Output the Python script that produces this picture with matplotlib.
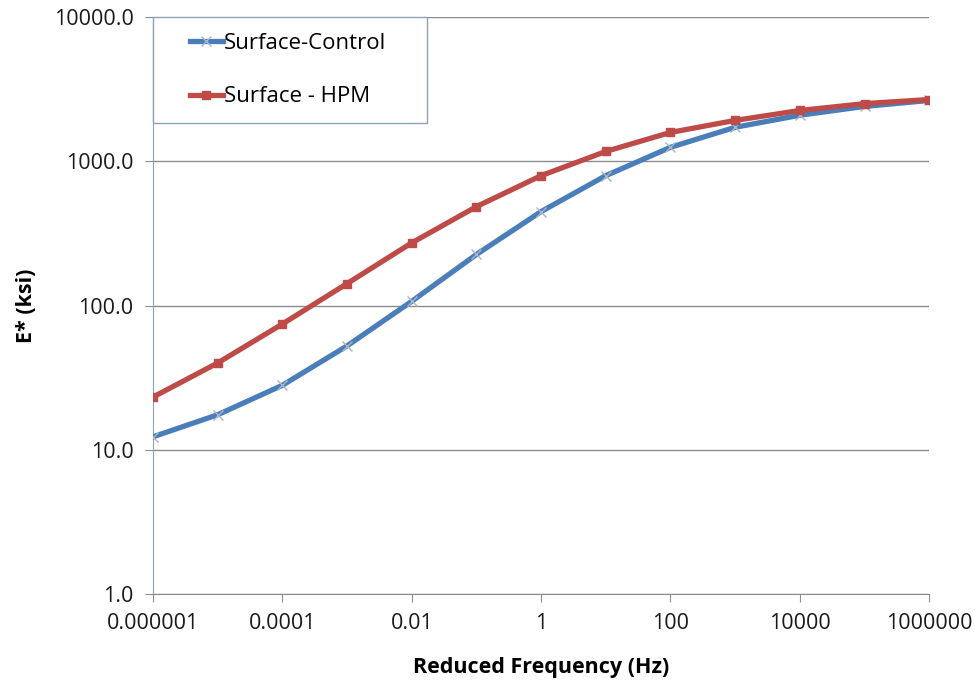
import numpy as np
import matplotlib.pyplot as plt
from matplotlib.patches import Rectangle
from matplotlib.ticker import FixedLocator, FuncFormatter, NullLocator

# Reduced frequency (Hz), half-decade steps
freq = [1e-6, 1e-5, 1e-4, 1e-3, 1e-2, 1e-1, 1, 10, 100, 1e3, 1e4, 1e5, 1e6]

# Dynamic modulus E* (ksi)
e_control = [12.3, 17.5, 28.0, 52.5, 107, 226, 448, 795, 1250, 1720, 2085, 2400, 2640]
e_hpm = [23.2, 40.0, 74.5, 142, 272, 485, 795, 1170, 1585, 1920, 2250, 2510, 2680]

x_ticks = [1e-6, 1e-4, 1e-2, 1, 100, 1e4, 1e6]
x_labels = ['0.000001', '0.0001', '0.01', '1', '100', '10000', '1000000']
y_ticks = [1, 10, 100, 1000, 10000]

plt.rcParams['font.family'] = ['Open Sans', 'DejaVu Sans']

fig = plt.figure(figsize=(9.75, 6.92), dpi=100)
ax = fig.add_axes([0.157, 0.1416, 0.796, 0.8338])

ax.plot(freq, e_control, color='#4a7ebb', lw=3.8, marker='x', ms=7,
        mec='#a8b4c8', mew=1.0, label='Surface-Control', zorder=3)
ax.plot(freq, e_hpm, color='#be4b48', lw=3.8, marker='s', ms=6,
        mfc='#be4b48', mec='#be4b48', label='Surface - HPM', zorder=4)

ax.set_xscale('log')
ax.set_yscale('log')
ax.set_xlim(1e-6, 1e6)
ax.set_ylim(1, 10000)

ax.xaxis.set_major_locator(FixedLocator(x_ticks))
ax.xaxis.set_minor_locator(NullLocator())
ax.set_xticklabels(x_labels)
ax.yaxis.set_major_locator(FixedLocator(y_ticks))
ax.yaxis.set_minor_locator(NullLocator())
ax.yaxis.set_major_formatter(FuncFormatter(lambda v, p: f'{v:.1f}'))

ax.grid(axis='y', color='#8c8c8c', lw=1.0)
ax.set_axisbelow(True)
for s in ['top', 'right']:
    ax.spines[s].set_visible(False)
ax.spines['left'].set_color('#8ea2b8')
ax.spines['bottom'].set_color('#8c8c8c')
ax.tick_params(axis='both', direction='out', length=6, color='#8c8c8c',
               labelsize=15.5, pad=8)
for t in ax.get_xticklabels() + ax.get_yticklabels():
    t.set_color('#1a1a1a')

ax.set_xlabel('Reduced Frequency (Hz)', fontsize=15.5, fontweight='bold', labelpad=16)
ax.set_ylabel('E* (ksi)', fontsize=15.5, fontweight='bold', labelpad=12)

# legend box drawn separately so its size matches the reference
ax.add_patch(Rectangle((0.0, 0.816), 0.353, 0.184, transform=ax.transAxes,
                       facecolor='white', edgecolor='#8ea2b8', lw=1.0,
                       zorder=5, clip_on=False))
leg = ax.legend(loc='upper left', bbox_to_anchor=(0.048, 0.972), fontsize=16,
                frameon=False, borderpad=0.0, labelspacing=1.45,
                handlelength=1.45, handletextpad=0.05, borderaxespad=0.0)
leg.set_zorder(6)

fig.savefig('out.png', dpi=100)
